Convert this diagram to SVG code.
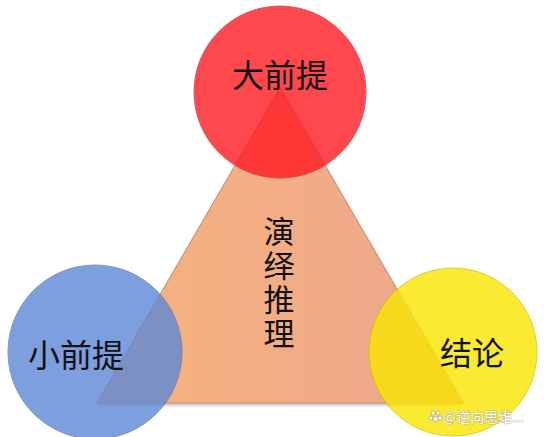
<svg xmlns="http://www.w3.org/2000/svg" width="544" height="437" viewBox="0 0 544 437">
<defs>
<linearGradient id="tri" x1="0" y1="0" x2="1" y2="0">
<stop offset="0" stop-color="#F6B37C"/>
<stop offset="1" stop-color="#EEA78E"/>
</linearGradient>
<filter id="sh" x="-10%" y="-10%" width="120%" height="120%">
<feGaussianBlur in="SourceAlpha" stdDeviation="1.5"/>
<feOffset dx="1" dy="1.5" result="b"/>
<feComponentTransfer><feFuncA type="linear" slope="0.25"/></feComponentTransfer>
<feMerge><feMergeNode/><feMergeNode in="SourceGraphic"/></feMerge>
</filter>
</defs>
<style>
.lbl{font-family:"Noto Sans CJK SC","Noto Sans",sans-serif;font-size:32px;fill:#111;text-anchor:middle}
.vert{font-family:"Noto Sans CJK SC","Noto Sans",sans-serif;font-size:31px;fill:#111;writing-mode:vertical-rl;letter-spacing:3px}
.c{opacity:0.8}
.wm{font-family:"Noto Sans CJK SC","Noto Sans",sans-serif;font-size:14px;fill:#fff;stroke:#8a8a8a;stroke-width:0.6;paint-order:stroke}
</style>
<rect width="544" height="437" fill="#fff"/>
<g id="triangle">
<polygon points="280,88 97,403 463,403" fill="url(#tri)" stroke="#B98A70" stroke-width="1" filter="url(#sh)"/>
<text class="vert" x="279" y="216">演绎推理</text>
</g>
<g id="connectors"></g>
<g id="major">
<circle class="c" cx="280" cy="92" r="86" fill="#FF1A22" stroke="#C8303A" stroke-width="1"/>
<text class="lbl" x="280" y="87">大前提</text>
</g>
<g id="minor">
<circle class="c" cx="95" cy="352" r="87" fill="#5F88D6" stroke="#5A78B8" stroke-width="1"/>
<text class="lbl" x="76" y="367">小前提</text>
</g>
<g id="conclusion">
<circle class="c" cx="453" cy="352" r="84" fill="#FAE500" stroke="#D8C000" stroke-width="1"/>
<text class="lbl" x="472" y="365">结论</text>
</g>
<g id="watermark">
<g fill="#fff" stroke="#8a8a8a" stroke-width="0.6">
<circle cx="433" cy="413" r="2"/>
<circle cx="438" cy="413" r="2"/>
<circle cx="431" cy="418" r="2"/>
<circle cx="440" cy="418" r="2"/>
<circle cx="435.5" cy="419" r="2.6"/>
</g>
<text class="wm" x="443" y="422">@逆向思维...</text>
</g>
</svg>
